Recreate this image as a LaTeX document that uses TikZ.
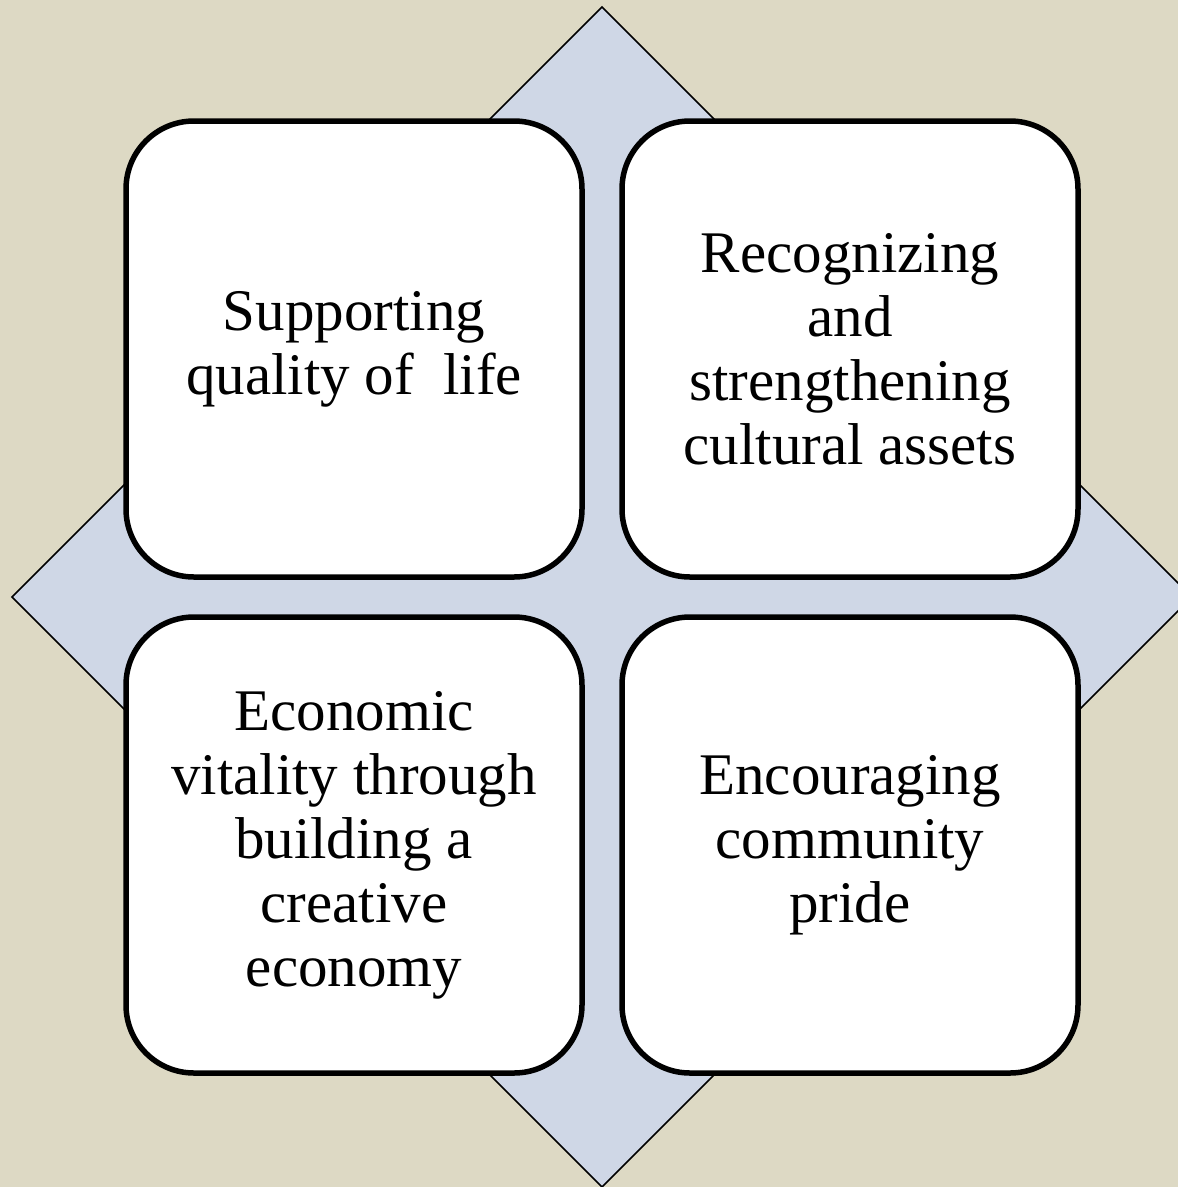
\documentclass[tikz,border=0pt]{standalone}
\usepackage{fontspec}
\setmainfont{Liberation Serif}
\definecolor{bgtan}{HTML}{DDD9C4}
\definecolor{dia}{HTML}{CFD7E6}
\tikzset{
  card/.style={draw=black, line width=5.5pt, fill=white, rounded corners=68pt},
  cardtext/.style={align=center, font=\fontsize{59}{64}\selectfont, inner sep=0pt}
}
\begin{document}
\begin{tikzpicture}[x=1pt,y=-1pt]
\clip (0,0) rectangle (1178,1187);
\fill[bgtan] (0,0) rectangle (1178,1187);
\draw[fill=dia, line width=1.5pt, line join=miter] (602,7) -- (1192,597) -- (602,1187) -- (12,597) -- cycle;
\draw[card] (126,121) rectangle (582,577);
\draw[card] (622,121) rectangle (1078,577);
\draw[card] (126,617) rectangle (582,1073);
\draw[card] (622,617) rectangle (1078,1073);
\node[cardtext] (tl) at (354,349) {Supporting\\quality of\ \ life};
\node[cardtext] (tr) at (850,349) {Recognizing\\and\\strengthening\\cultural assets};
\node[cardtext] (bl) at (354,845) {Economic\\vitality through\\building a\\creative\\economy};
\node[cardtext] (br) at (850,845) {Encouraging\\community\\pride};
\end{tikzpicture}
\end{document}
